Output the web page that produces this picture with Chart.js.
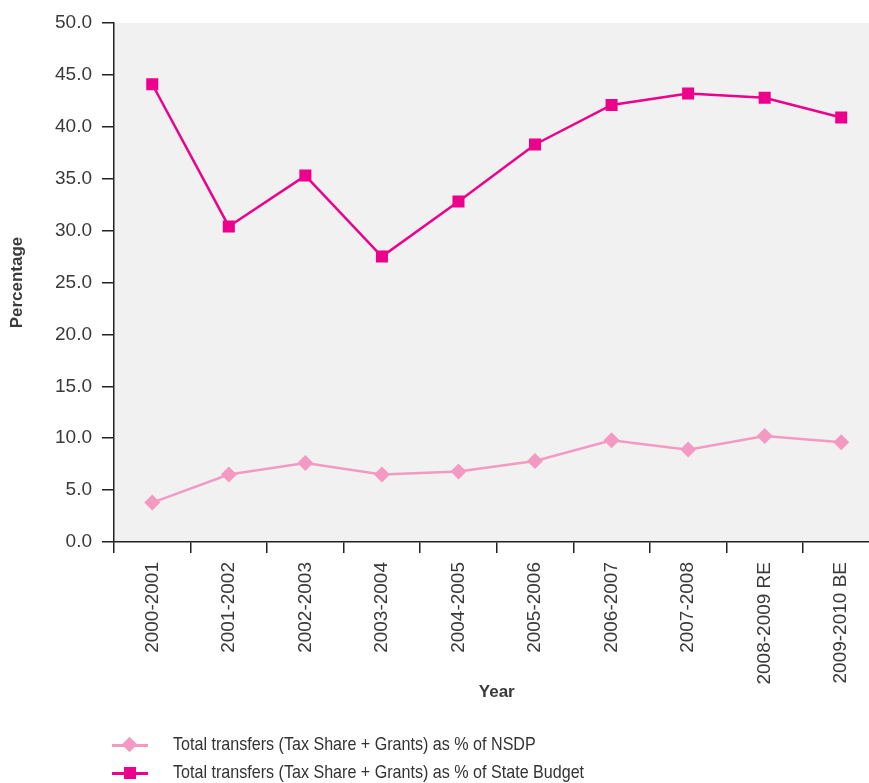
<!DOCTYPE html>
<html>
<head>
<meta charset="utf-8">
<script src="https://cdn.jsdelivr.net/npm/chart.js@4"></script>
<style>
html, body { margin: 0; padding: 0; background: #fff; overflow: hidden; }
#wrap { position: relative; width: 888px; height: 783px; }
#legend { position: absolute; left: 112px; top: 732px; font-family: "Liberation Sans", Arial, sans-serif; font-size: 18.5px; color: #333; }
.item { position: relative; height: 28px; white-space: nowrap; }
.line { position: absolute; left: 0; top: 12px; width: 36px; height: 3px; }
.mark { position: absolute; }
.txt { position: absolute; left: 61px; top: 1px; transform: scaleX(0.87); transform-origin: left center; }
</style>
</head>
<body>
<div id="wrap">
<canvas id="chart" width="888" height="783"></canvas>
<div id="legend"></div>
</div>
<script>
const years = ['2000-2001', '2001-2002', '2002-2003', '2003-2004', '2004-2005',
  '2005-2006', '2006-2007', '2007-2008', '2008-2009 RE', '2009-2010 BE'];

const nsdpShare = [3.8, 6.5, 7.6, 6.5, 6.8, 7.8, 9.8, 8.9, 10.2, 9.6];
const budgetShare = [44.1, 30.4, 35.3, 27.5, 32.8, 38.3, 42.1, 43.2, 42.8, 40.9];

const yTicks = [0, 5, 10, 15, 20, 25, 30, 35, 40, 45, 50];

const nsdpLabel = 'Total transfers (Tax Share + Grants) as % of NSDP';
const budgetLabel = 'Total transfers (Tax Share + Grants) as % of State Budget';

const pink = '#f49ac2';
const magenta = '#ec008c';
const axisColor = '#222';
const textColor = '#3a3a3a';
const font = 'Liberation Sans, Arial, sans-serif';

// grey panel behind the plot
const plotBg = {
  id: 'plotBg',
  beforeDraw(chart) {
    const a = chart.chartArea;
    const ctx = chart.ctx;
    ctx.save();
    ctx.fillStyle = '#f1f1f1';
    ctx.fillRect(a.left, a.top, a.right - a.left, a.bottom - a.top);
    ctx.restore();
  }
};

new Chart(document.getElementById('chart'), {
  type: 'line',
  data: {
    labels: years,
    datasets: [{
      label: nsdpLabel,
      data: nsdpShare,
      borderColor: pink,
      backgroundColor: pink,
      borderWidth: 2.5,
      pointStyle: 'rectRot',
      pointRadius: 8,
      pointHoverRadius: 8,
      pointBorderWidth: 0
    }, {
      label: budgetLabel,
      data: budgetShare,
      borderColor: magenta,
      backgroundColor: magenta,
      borderWidth: 2.5,
      pointStyle: 'rect',
      pointRadius: 8.5,
      pointHoverRadius: 8.5,
      pointBorderWidth: 0
    }]
  },
  options: {
    responsive: false,
    animation: false,
    layout: { padding: { left: 0, right: 0, top: 23, bottom: 51 } },
    plugins: {
      legend: { display: false },
      tooltip: { enabled: false }
    },
    scales: {
      x: {
        offset: true,
        afterFit: s => { s.height = 190; },
        grid: {
          offset: true,
          drawOnChartArea: false,
          drawTicks: true,
          tickLength: 11,
          color: axisColor,
          lineWidth: 1.5
        },
        border: { color: axisColor, width: 1.5 },
        ticks: {
          maxRotation: 90,
          minRotation: 90,
          padding: 9,
          color: textColor,
          font: { family: font, size: 19 }
        },
        title: {
          display: true,
          text: 'Year',
          color: textColor,
          font: { family: font, size: 17, weight: 'bold' },
          padding: { top: 4, bottom: 29 }
        }
      },
      y: {
        min: 0,
        max: 50,
        afterFit: s => { s.width = 114; },
        afterBuildTicks: s => { s.ticks = yTicks.map(v => ({ value: v })); },
        grid: {
          drawOnChartArea: false,
          drawTicks: true,
          tickLength: 12,
          color: axisColor,
          lineWidth: 1.5
        },
        border: { color: axisColor, width: 1.5 },
        ticks: {
          padding: 10,
          color: textColor,
          font: { family: font, size: 19 },
          callback: v => Number(v).toFixed(1)
        },
        title: {
          display: true,
          text: 'Percentage',
          color: textColor,
          font: { family: font, size: 17, weight: 'bold' },
          padding: { top: 7, bottom: 0 }
        }
      }
    }
  },
  plugins: [plotBg]
});

// legend rows under the chart
const legend = document.getElementById('legend');

[[nsdpLabel, pink, 'diamond'], [budgetLabel, magenta, 'square']].forEach(([text, color, shape]) => {
  const mark = shape === 'diamond'
    ? `<div class="mark" style="left:12px;top:7px;width:11px;height:11px;background:${color};transform:rotate(45deg)"></div>`
    : `<div class="mark" style="left:12px;top:7px;width:12px;height:12px;background:${color}"></div>`;
  legend.innerHTML += `
    <div class="item">
      <div class="line" style="background:${color}"></div>
      ${mark}
      <span class="txt">${text}</span>
    </div>`;
});
</script>
</body>
</html>
